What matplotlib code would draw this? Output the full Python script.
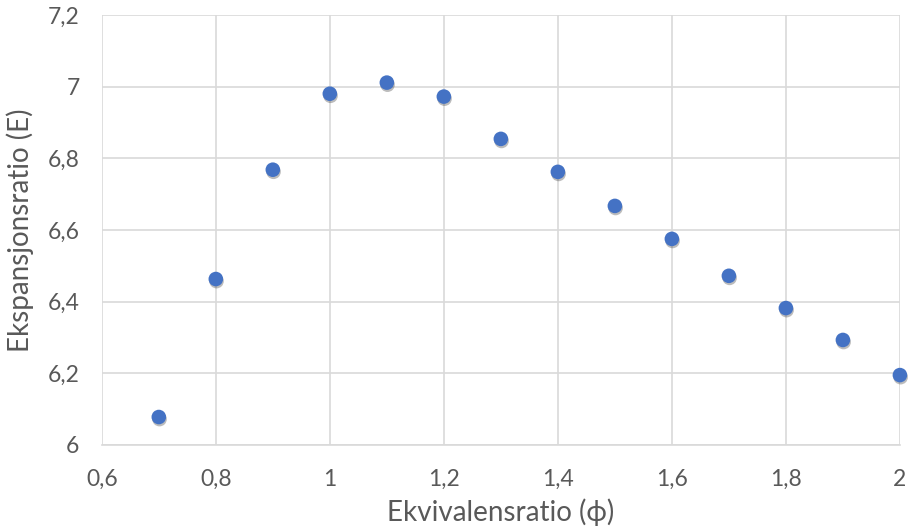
import numpy as np
import matplotlib
matplotlib.use('Agg')
import matplotlib.pyplot as plt
from matplotlib.ticker import FuncFormatter, MultipleLocator
import matplotlib.patheffects as pe

# ekvivalensratio (phi) and ekspansjonsratio (E)
phi = [0.7, 0.8, 0.9, 1.0, 1.1, 1.2, 1.3, 1.4, 1.5, 1.6, 1.7, 1.8, 1.9, 2.0]
expansion = [6.078, 6.463, 6.768, 6.980, 7.011, 6.972, 6.854, 6.762,
             6.667, 6.575, 6.472, 6.382, 6.293, 6.195]

x_label = 'Ekvivalensratio (ϕ)'
y_label = 'Ekspansjonsratio (E)'

plt.rcParams['font.family'] = ['Lato', 'DejaVu Sans']

fig = plt.figure(figsize=(9.09, 5.31), dpi=100)
ax = fig.add_axes([0.112, 0.162, 0.878, 0.810])

grid_color = '#d9d9d9'
text_color = '#595959'

ax.plot(phi, expansion, linestyle='none', marker='o', markersize=10.5,
        color='#4472c4', markeredgewidth=0, zorder=3,
        path_effects=[pe.SimplePatchShadow(offset=(0.5, -1.5), alpha=0.35, shadow_rgbFace='#404040'),
                      pe.Normal()], clip_on=False)

ax.set_xlim(0.6, 2.0)
ax.set_ylim(6.0, 7.2)
ax.xaxis.set_major_locator(MultipleLocator(0.2))
ax.yaxis.set_major_locator(MultipleLocator(0.2))

fmt = FuncFormatter(lambda v, pos: '{:g}'.format(round(v, 2)).replace('.', ','))
ax.xaxis.set_major_formatter(fmt)
ax.yaxis.set_major_formatter(fmt)

ax.grid(True, color=grid_color, linewidth=1.2)
ax.set_axisbelow(True)
for side in ['top', 'right', 'left']:
    ax.spines[side].set_visible(False)
ax.spines['bottom'].set_color(grid_color)
ax.spines['bottom'].set_linewidth(1.2)

ax.tick_params(axis='both', length=0, labelsize=16.5, labelcolor=text_color)
ax.tick_params(axis='x', pad=17)
ax.tick_params(axis='y', pad=16)

ax.set_xlabel(x_label, fontsize=20, color=text_color, labelpad=6)
ax.set_ylabel(y_label, fontsize=20, color=text_color, labelpad=10)

fig.savefig('out.png', dpi=100, facecolor='white')
